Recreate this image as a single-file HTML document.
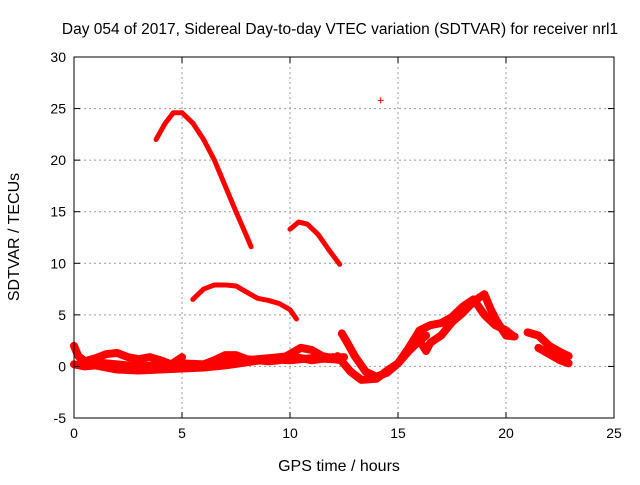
<!DOCTYPE html>
<html><head><meta charset="utf-8"><style>
body{margin:0;background:#fff;}
text{font-family:"Liberation Sans",sans-serif;fill:#000;}
</style></head><body>
<svg id="chart" width="640" height="480" xmlns="http://www.w3.org/2000/svg">
<rect width="640" height="480" fill="#fff"/>
<text x="340" y="34" font-size="15.5" text-anchor="middle">Day 054 of 2017, Sidereal Day-to-day VTEC variation (SDTVAR) for receiver nrl1</text>
<g id="grid"></g>
<g id="series"></g>
<rect x="74" y="57" width="540" height="361" fill="none" stroke="#000" stroke-width="1"/>
<g id="ticks"></g>
<text x="339" y="471" font-size="16" text-anchor="middle">GPS time / hours</text>
<text transform="translate(19,237) rotate(-90)" font-size="16" text-anchor="middle">SDTVAR / TECUs</text>
</svg>
<script>
const xTicks=[0,5,10,15,20,25];
const yTicks=[-5,0,5,10,15,20,25,30];
const arc1=[[3.8,22.0],[4.2,23.5],[4.6,24.6],[5,24.6],[5.5,23.6],[6,22],[6.5,20],[7,17.5],[7.5,15],[8,12.6],[8.2,11.6]];
const arc2=[[10,13.3],[10.4,14],[10.8,13.8],[11.3,12.8],[11.8,11.3],[12.3,9.9]];
const arc3=[[5.5,6.5],[6,7.5],[6.5,7.9],[7,7.9],[7.5,7.8],[8,7.2],[8.5,6.6],[9,6.4],[9.5,6.1],[10,5.5],[10.3,4.6]];
const base1=[[0,2.0],[0.2,1.0],[0.5,0.5],[1,0.8],[1.5,1.2],[2,1.3],[2.5,0.9],[3,0.7],[3.5,0.9],[4,0.6],[4.5,0.2],[5,0.9]];
const base2=[[0,0.2],[0.5,0],[1,0.1],[2,-0.3],[3,-0.4],[4,-0.3],[5,-0.2],[6,-0.1],[7,0.1],[8,0.4],[9,0.7],[10,0.6],[11,0.8],[12,0.7],[12.4,0.6]];
const base3=[[0.3,0.4],[1,0.4],[2,0.2],[3,0],[4,0.1],[5,0.3],[6,0.2],[6.5,0.6],[7,1.1],[7.5,1.1],[8,0.7],[9,0.5],[9.5,0.6],[10,1.2],[10.5,1.8],[11,1.6],[11.5,1.0],[12,0.8],[12.5,0.9]];
const base4=[[5,0.0],[6,0.2],[7,0.4],[8,0.6],[9,0.8],[10,1.0],[11,0.6],[12,0.9]];
const late1=[[12.4,3.2],[12.6,2.5],[13,1.0],[13.5,-0.5],[14,-1.0],[14.5,-0.6],[15,0.3],[15.5,1.5],[16,2.5],[16.3,3.0]];
const late2=[[12.2,1.0],[12.8,-0.5],[13.3,-1.3],[14,-1.2],[14.5,-0.4],[15,0.3],[15.5,1.8],[16,3.5],[16.5,4.0],[17,4.2],[17.5,4.8],[18,5.8],[18.5,6.5],[19,5.0],[19.5,4.0],[20,3.5],[20.3,3.0]];
const late3=[[16,2.5],[16.3,1.5],[16.5,2.3],[17,3.0],[17.5,4.3],[18,5.2],[18.5,6.3],[19,7.0],[19.3,5.5],[19.6,4.3],[20,3.0],[20.4,2.9]];
const late4=[[21,3.3],[21.5,3.0],[22,2.0],[22.5,1.4],[22.9,1.0]];
const late5=[[21.5,1.8],[22,1.2],[22.5,0.6],[22.9,0.3]];
const lonePoint=[[14.2,25.8]];
const seriesList=[arc1,arc2,arc3,base1,base2,base3,base4,late1,late2,late3,late4,late5];
const seriesNames=['arc-1','arc-2','arc-3','baseline-1','baseline-2','baseline-3','baseline-4','late-1','late-2','late-3','late-4','late-5'];
const X0=74,X1=614,Y0=418,Y1=57;
function sx(v){return X0+(v-0)/(25-0)*(X1-X0);}
function sy(v){return Y0-(v+5)/(35)*(Y0-Y1);}
const NS='http://www.w3.org/2000/svg';
const grid=document.getElementById('grid'),ticks=document.getElementById('ticks'),ser=document.getElementById('series');
function mk(t,a,p){const e=document.createElementNS(NS,t);for(const k in a)e.setAttribute(k,a[k]);p.appendChild(e);return e;}
xTicks.forEach(v=>{
 const x=sx(v);
 if(v>0&&v<25){const g=mk('line',{x1:x,x2:x,y1:Y1,y2:Y0,stroke:'#999','stroke-dasharray':'2,3'},grid);
 
 }
 mk('line',{x1:x,x2:x,y1:Y0,y2:Y0-6,stroke:'#000'},ticks);
 mk('line',{x1:x,x2:x,y1:Y1,y2:Y1+6,stroke:'#000'},ticks);
 const t=mk('text',{x:x,y:Y0+20,'font-size':14,'text-anchor':'middle'},ticks);t.textContent=v;
 
 
});
yTicks.forEach(v=>{
 const y=sy(v);
 if(v>-5&&v<30){const g=mk('line',{x1:X0,x2:X1,y1:y,y2:y,stroke:'#999','stroke-dasharray':'2,3'},grid);
 
 }
 mk('line',{x1:X0,x2:X0+6,y1:y,y2:y,stroke:'#000'},ticks);
 mk('line',{x1:X1,x2:X1-6,y1:y,y2:y,stroke:'#000'},ticks);
 const t=mk('text',{x:X0-8,y:y+5,'font-size':14,'text-anchor':'end'},ticks);t.textContent=v;
 
 
});
seriesList.forEach((s,i)=>{
 const p=mk('polyline',{points:s.map(d=>sx(d[0])+','+sy(d[1])).join(' '),fill:'none',stroke:'#f00','stroke-width':i<3?5:8,'stroke-linejoin':'round','stroke-linecap':'round'},ser);
 
 
});
lonePoint.forEach(d=>{
 const x=sx(d[0]),y=sy(d[1]);
 const g=mk('path',{d:`M${x-3},${y}H${x+3}M${x},${y-3}V${y+3}`,stroke:'#f00','stroke-width':1},ser);
 
 
});
</script>
</body></html>
